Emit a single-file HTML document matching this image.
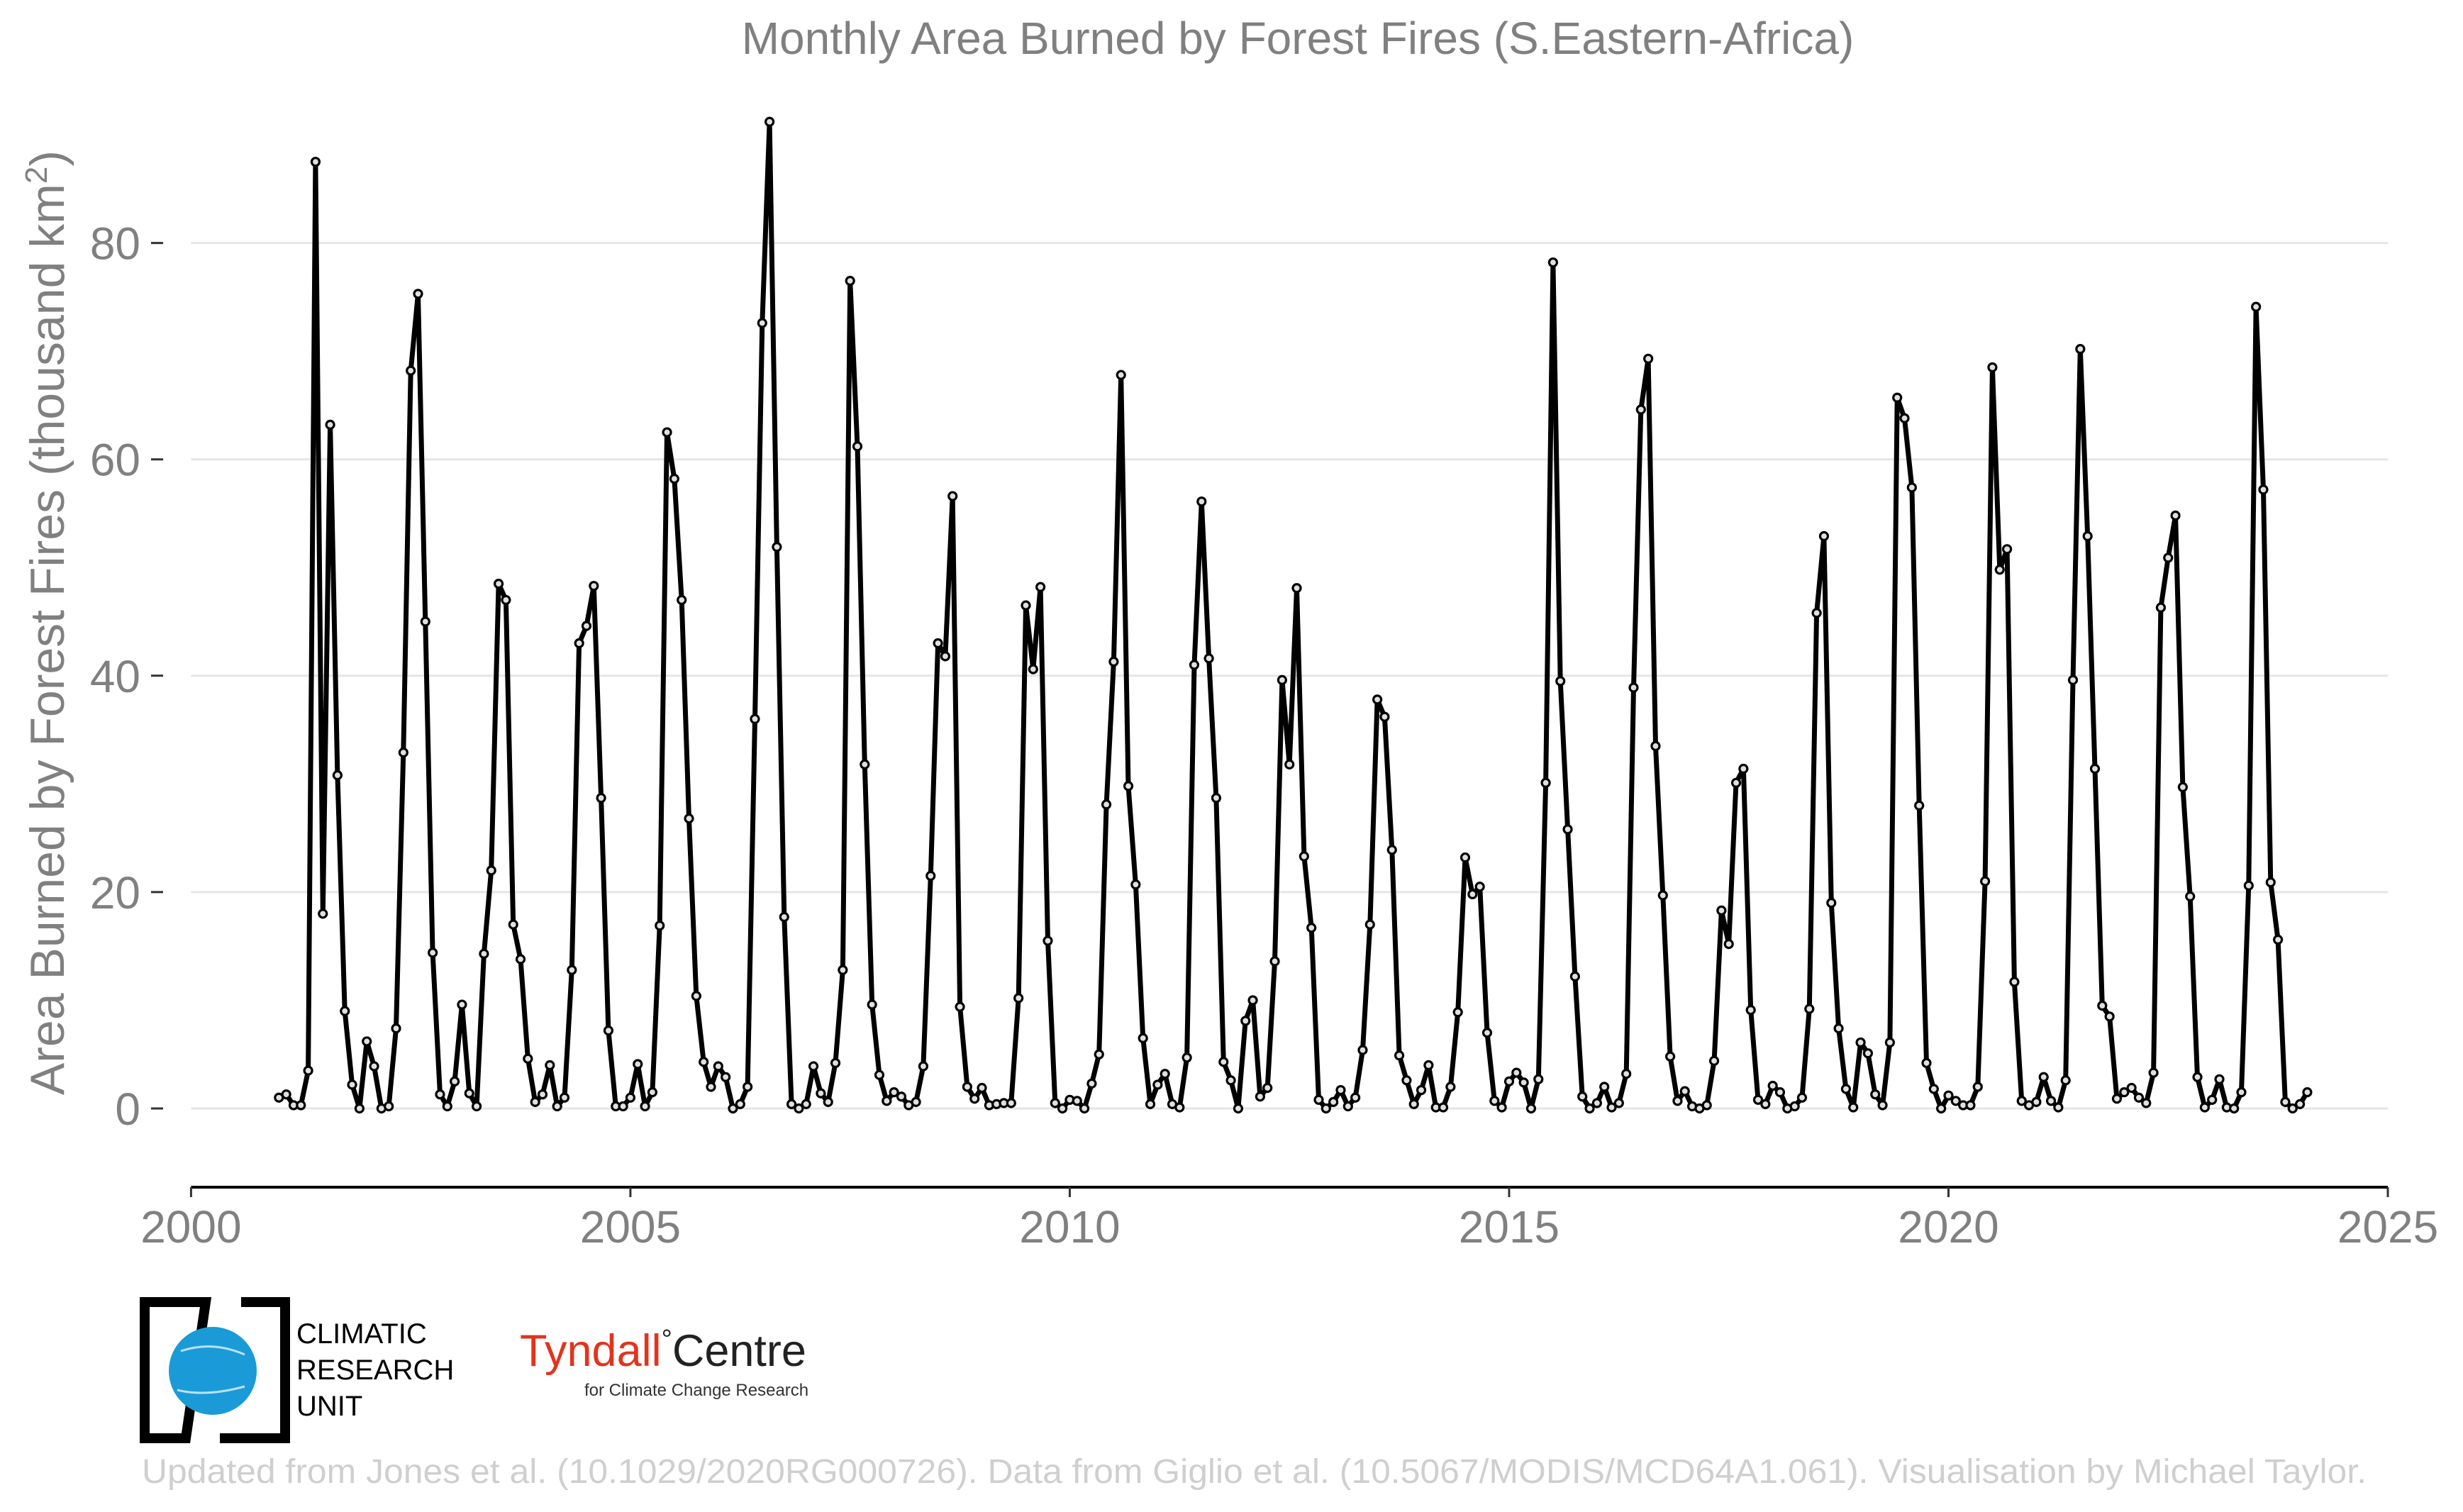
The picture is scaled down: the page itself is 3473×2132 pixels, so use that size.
<!DOCTYPE html>
<html><head><meta charset="utf-8"><style>
html,body{margin:0;padding:0;background:#fff;}
svg{display:block;font-family:"Liberation Sans",sans-serif;}
</style></head><body>
<svg id="chart" width="3473" height="2132" viewBox="0 0 3473 2132" xmlns="http://www.w3.org/2000/svg">
<rect width="3473" height="2132" fill="#fff"/>
<text x="1830" y="76" font-size="64" fill="#808080" text-anchor="middle">Monthly Area Burned by Forest Fires (S.Eastern-Africa)</text>
<text transform="translate(90,878) rotate(-90)" font-size="68" fill="#808080" text-anchor="middle">Area Burned by Forest Fires (thousand km<tspan font-size="44" dy="-24">2</tspan><tspan dy="24">)</tspan></text>
<g id="grid"></g>
<g id="yticks"></g>
<g id="xaxis"></g>
<g id="series"></g>
<g>
<path d="M204,1836 H290 L262,2028 H204 Z" fill="none" stroke="#000" stroke-width="14"/>
<path d="M340,1836 H402 V2028 H310" fill="none" stroke="#000" stroke-width="14"/>
<circle cx="300" cy="1933" r="62" fill="#1a9bd7"/>
<path d="M250,1960 q40,10 95,-5 M255,1905 q45,-15 90,5" stroke="#fff" stroke-width="3" fill="none" opacity="0.7"/>
<text x="418" y="1894" font-size="40" fill="#000">CLIMATIC</text>
<text x="418" y="1945" font-size="40" fill="#000">RESEARCH</text>
<text x="418" y="1996" font-size="40" fill="#000">UNIT</text>
</g>
<g>
<text x="733" y="1926" font-size="63" fill="#e2341d">Tyndall<tspan fill="#222" font-size="38" dy="-25">°</tspan><tspan fill="#222" font-size="63" dy="25">Centre</tspan></text>
<text x="824" y="1968" font-size="24" fill="#333">for Climate Change Research</text>
</g>
<text x="200" y="2091" font-size="48" fill="#cfcfcf" textLength="3137" lengthAdjust="spacingAndGlyphs">Updated from Jones et al. (10.1029/2020RG000726). Data from Giglio et al. (10.5067/MODIS/MCD64A1.061). Visualisation by Michael Taylor.</text>
</svg>
<script>
const startYear = 2001;
const vals2001 = [1.0,1.3,0.3,0.3,3.5,87.5,18,63.2,30.8,9.0,2.2,0];
const vals2002 = [6.2,3.9,0,0.2,7.4,32.9,68.2,75.3,45,14.4,1.3,0.2];
const vals2003 = [2.5,9.6,1.4,0.2,14.3,22,48.5,47,17,13.8,4.6,0.6];
const vals2004 = [1.3,4.0,0.2,1.0,12.8,43,44.6,48.3,28.7,7.2,0.2,0.2];
const vals2005 = [1.0,4.1,0.2,1.5,16.9,62.5,58.2,47,26.8,10.4,4.3,2.0];
const vals2006 = [3.9,2.9,0,0.4,2.0,36,72.6,91.2,51.9,17.7,0.4,0];
const vals2007 = [0.4,3.9,1.4,0.6,4.2,12.8,76.5,61.2,31.8,9.6,3.1,0.7];
const vals2008 = [1.5,1.1,0.3,0.6,3.9,21.5,43,41.8,56.6,9.4,2.0,0.9];
const vals2009 = [1.9,0.3,0.4,0.5,0.5,10.2,46.5,40.6,48.2,15.5,0.5,0];
const vals2010 = [0.8,0.7,0,2.3,5,28.1,41.3,67.8,29.8,20.7,6.5,0.4];
const vals2011 = [2.2,3.2,0.4,0.1,4.7,41,56.1,41.6,28.7,4.3,2.6,0];
const vals2012 = [8.1,10,1.1,1.9,13.6,39.6,31.8,48.1,23.3,16.7,0.8,0];
const vals2013 = [0.6,1.7,0.2,1.0,5.4,17,37.8,36.2,23.9,4.9,2.6,0.4];
const vals2014 = [1.7,4.0,0.1,0.1,2.0,8.9,23.2,19.8,20.5,7.0,0.7,0.1];
const vals2015 = [2.5,3.3,2.4,0,2.7,30.1,78.2,39.5,25.8,12.2,1.1,0];
const vals2016 = [0.5,2.0,0.1,0.5,3.2,38.9,64.6,69.3,33.5,19.7,4.8,0.7];
const vals2017 = [1.6,0.2,0,0.3,4.4,18.3,15.2,30.1,31.4,9.1,0.8,0.4];
const vals2018 = [2.1,1.5,0,0.2,1.0,9.2,45.8,52.9,19.0,7.4,1.8,0.1];
const vals2019 = [6.1,5.1,1.3,0.3,6.1,65.7,63.8,57.4,28.0,4.2,1.8,0];
const vals2020 = [1.2,0.7,0.3,0.3,2.0,21.0,68.5,49.8,51.7,11.7,0.7,0.3];
const vals2021 = [0.6,2.9,0.7,0.1,2.6,39.6,70.2,52.9,31.4,9.5,8.5,0.9];
const vals2022 = [1.5,1.9,1.0,0.5,3.3,46.3,50.9,54.8,29.7,19.6,2.9,0.1];
const vals2023 = [0.8,2.7,0.1,0,1.5,20.6,74.1,57.2,20.9,15.6,0.6,0];
const vals2024 = [0.4,1.5];
const yTicks = [0,20,40,60,80];
const xTicks = [2000,2005,2010,2015,2020,2025];

const values = [].concat(vals2001,vals2002,vals2003,vals2004,vals2005,vals2006,vals2007,vals2008,vals2009,vals2010,vals2011,vals2012,vals2013,vals2014,vals2015,vals2016,vals2017,vals2018,vals2019,vals2020,vals2021,vals2022,vals2023,vals2024);
const NS = "http://www.w3.org/2000/svg";
const X0 = 269.4, X1 = 3367, Y0 = 1563, Y80 = 342.6;
function xs(t){ return X0 + (t-2000)/25*(X1-X0); }
function ys(v){ return Y0 + v/80*(Y80-Y0); }
function mk(tag, attrs, parent){ const e=document.createElementNS(NS,tag); for(const k in attrs) e.setAttribute(k,attrs[k]); parent.appendChild(e); return e; }
const grid=document.getElementById('grid'), yt=document.getElementById('yticks'), xa=document.getElementById('xaxis'), se=document.getElementById('series');
yTicks.forEach(v=>{
  const g=mk('line',{x1:X0,x2:X1,y1:ys(v),y2:ys(v),stroke:'#e5e5e5','stroke-width':3},grid);
  
  
  const tk=mk('line',{x1:213,x2:230,y1:ys(v),y2:ys(v),stroke:'#333','stroke-width':3},yt);
  
  
  const t=mk('text',{x:198,y:ys(v)+23,'font-size':64,fill:'#808080','text-anchor':'end'},yt);
  t.textContent=v;
  
  
});
const ax=mk('line',{x1:X0,x2:X1,y1:1674,y2:1674,stroke:'#000','stroke-width':4},xa);


xTicks.forEach(yr=>{
  const tk=mk('line',{x1:xs(yr),x2:xs(yr),y1:1674,y2:1688,stroke:'#333','stroke-width':3},xa);
  
  
  const t=mk('text',{x:xs(yr),y:1752,'font-size':64,fill:'#808080','text-anchor':'middle'},xa);
  t.textContent=yr;
  
  
});
const pts=values.map((v,i)=>[xs(startYear+i/12), ys(v)]);
const line=mk('polyline',{points:pts.map(p=>p[0].toFixed(1)+','+p[1].toFixed(1)).join(' '),fill:'none',stroke:'#000','stroke-width':7,'stroke-linejoin':'round'},se);


pts.forEach((p,i)=>{
  const c=mk('circle',{cx:p[0],cy:p[1],r:5.5,fill:'#e0e0e0',stroke:'#000','stroke-width':3.2},se);
  
  
});
</script>
</body></html>
